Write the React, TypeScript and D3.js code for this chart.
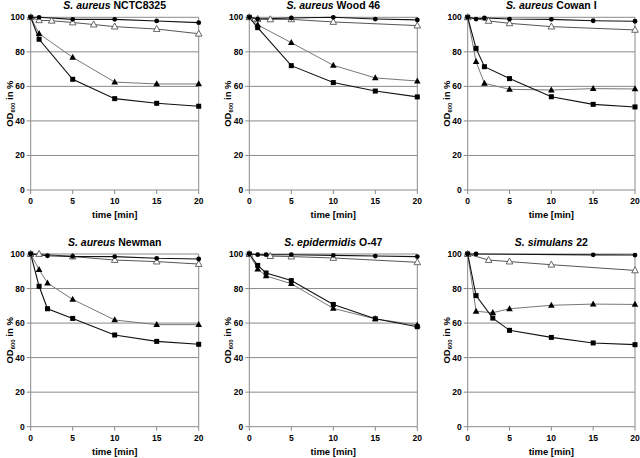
import React from "react";
import * as d3 from "d3";

type Pt = [number, number];

const titles: [string, string][] = [
  ["S. aureus", "NCTC8325"],
  ["S. aureus", "Wood 46"],
  ["S. aureus", "Cowan I"],
  ["S. aureus", "Newman"],
  ["S. epidermidis", "O-47"],
  ["S. simulans", "22"],
];

// series per panel: circles, open triangles, filled triangles, squares
const circles: Pt[][] = [
  [[0, 100], [1, 100], [5, 98.8], [10, 98.8], [15, 97.9], [20, 96.9]],
  [[0, 100], [1, 99], [5, 99.6], [10, 100], [15, 99], [20, 98.5]],
  [[0, 100], [1, 99], [2, 99.6], [5, 99], [10, 98.8], [15, 98], [20, 97.7]],
  [[0, 100], [2, 99], [5, 98.6], [10, 98.5], [15, 97.5], [20, 97.1]],
  [[0, 100], [1, 99.6], [2, 99.6], [5, 99.6], [10, 99.2], [15, 98.8], [20, 98.5]],
  [[0, 100], [1, 100], [15, 99.5], [20, 99.4]],
];
const openTri: Pt[][] = [
  [[0, 100], [1, 98.3], [2.5, 98], [5, 97], [7.5, 95.8], [10, 94.6], [15, 93.2], [20, 90.5]],
  [[0, 100], [1, 99], [2.5, 98.8], [5, 98.8], [10, 97.3], [20, 95.2]],
  [[0, 100], [2.5, 97.9], [5, 96.5], [10, 94.6], [20, 92.7]],
  [[0, 100], [1, 100], [5, 98.5], [10, 96.5], [15, 95.6], [20, 94.2]],
  [[0, 100], [2.5, 98.8], [5, 98.5], [10, 97.7], [20, 95.2]],
  [[0, 100], [2.5, 96.5], [5, 95.6], [10, 93.8], [20, 90.5]],
];
const filledTri: Pt[][] = [
  [[0, 100], [1, 90.5], [5, 76.8], [10, 62.5], [15, 61.4], [20, 61.4]],
  [[0, 100], [1, 95.6], [5, 85.3], [10, 72.2], [15, 64.9], [20, 63.1]],
  [[0, 100], [1, 74.3], [2, 61.8], [5, 58.3], [10, 57.9], [15, 58.7], [20, 58.5]],
  [[0, 100], [1, 90.9], [2, 83.2], [5, 73.7], [10, 61.8], [15, 59.1], [20, 59.1]],
  [[0, 100], [1, 91.3], [2, 87.3], [5, 82.8], [10, 68.5], [15, 62.4], [20, 58.9]],
  [[0, 100], [1, 66.8], [3, 66], [5, 68.3], [10, 70.3], [15, 71], [20, 70.8]],
];
const squares: Pt[][] = [
  [[0, 100], [1, 87.3], [5, 64.1], [10, 52.9], [15, 50.2], [20, 48.5]],
  [[0, 100], [1, 94], [5, 72], [10, 62.2], [15, 57.3], [20, 53.9]],
  [[0, 100], [1, 82], [2, 71.4], [5, 64.5], [10, 54], [15, 49.6], [20, 48.1]],
  [[0, 100], [1, 81.3], [2, 68.3], [5, 62.7], [10, 53.1], [15, 49.4], [20, 47.7]],
  [[0, 100], [1, 93.4], [2, 89], [5, 84.6], [10, 70.8], [15, 62.5], [20, 57.9]],
  [[0, 100], [1, 75.9], [3, 62.9], [5, 55.8], [10, 51.7], [15, 48.5], [20, 47.5]],
];

const xTicks = [0, 5, 10, 15, 20];
const yTicks = [0, 20, 40, 60, 80, 100];

const colX: [number, number][] = [
  [30.7, 198.7],
  [249.3, 417.3],
  [467.7, 635],
];
const rowY: [number, number][] = [
  [190, 17.3],
  [426.7, 254],
];

const FONT = "Arial, 'Liberation Sans', Helvetica, sans-serif";
const GRID = "#8a8a8a";

function Panel({ idx }: { idx: number }) {
  const col = idx % 3;
  const row = Math.floor(idx / 3);
  const x = d3.scaleLinear().domain([0, 20]).range(colX[col]);
  const y = d3.scaleLinear().domain([0, 100]).range(rowY[row]);
  const line = d3
    .line<Pt>()
    .x((d) => x(d[0]))
    .y((d) => y(d[1]));
  const [x0, x1] = x.range();
  const [yb, yt] = y.range();
  const cx = (x0 + x1) / 2;
  const cy = (yb + yt) / 2;
  const triPath = (px: number, py: number, s: number) =>
    `M${px},${py - s * 0.6}L${px + s * 0.55},${py + s * 0.4}L${px - s * 0.55},${py + s * 0.4}Z`;

  return (
    <g>
      {/* gridlines */}
      {yTicks.filter((t) => t > 0).map((t) => (
        <line key={"g" + t} x1={x0} x2={x1} y1={y(t)} y2={y(t)} stroke={GRID} strokeWidth={1} />
      ))}
      {/* right border */}
      <line x1={x1} x2={x1} y1={yt} y2={yb} stroke={GRID} strokeWidth={1} />
      {/* axes */}
      <line x1={x0} x2={x0} y1={yt} y2={yb} stroke={GRID} strokeWidth={1} />
      <line x1={x0} x2={x1} y1={yb} y2={yb} stroke={GRID} strokeWidth={1} />
      {yTicks.map((t) => (
        <g key={"yt" + t}>
          <line x1={x0 - 4} x2={x0} y1={y(t)} y2={y(t)} stroke={GRID} />
          <text x={x0 - 6} y={y(t) + 3} textAnchor="end" fontSize={8.5} fontWeight="bold" fontFamily={FONT}>
            {t}
          </text>
        </g>
      ))}
      {xTicks.map((t) => (
        <g key={"xt" + t}>
          <line x1={x(t)} x2={x(t)} y1={yb} y2={yb + 4} stroke={GRID} />
          <text x={x(t)} y={yb + 14} textAnchor="middle" fontSize={8.5} fontWeight="bold" fontFamily={FONT}>
            {t}
          </text>
        </g>
      ))}
      <text x={cx} y={yb + 28} textAnchor="middle" fontSize={9.5} fontWeight="bold" fontFamily={FONT}>
        time [min]
      </text>
      <text
        transform={`translate(${x0 - 18},${cy}) rotate(-90)`}
        textAnchor="middle"
        fontSize={9.5}
        fontWeight="bold"
        fontFamily={FONT}
      >
        OD<tspan fontSize={6} dy={2}>600</tspan>
        <tspan dy={-2}> in %</tspan>
      </text>
      <text x={cx} y={yt - 8} textAnchor="middle" fontSize={10.5} fontWeight="bold" fontFamily={FONT}>
        <tspan fontStyle="italic">{titles[idx][0]}</tspan> {titles[idx][1]}
      </text>

      {/* series lines */}
      <path d={line(filledTri[idx]) || ""} fill="none" stroke="#777" strokeWidth={1} />
      <path d={line(squares[idx]) || ""} fill="none" stroke="#111" strokeWidth={1.1} />
      <path d={line(openTri[idx]) || ""} fill="none" stroke="#555" strokeWidth={1} />
      <path d={line(circles[idx]) || ""} fill="none" stroke="#111" strokeWidth={1.1} />

      {/* markers */}
      {filledTri[idx].map((d, i) => (
        <path key={"ft" + i} d={triPath(x(d[0]), y(d[1]), 6)} fill="#000" />
      ))}
      {squares[idx].map((d, i) => (
        <rect key={"sq" + i} x={x(d[0]) - 2.5} y={y(d[1]) - 2.5} width={5} height={5} fill="#000" />
      ))}
      {openTri[idx].map((d, i) => (
        <path key={"ot" + i} d={triPath(x(d[0]), y(d[1]), 6)} fill="#fff" stroke="#444" strokeWidth={0.8} />
      ))}
      {circles[idx].map((d, i) => (
        <circle key={"c" + i} cx={x(d[0])} cy={y(d[1])} r={2.4} fill="#000" />
      ))}
    </g>
  );
}

export default function App() {
  return (
    <svg
      width={640}
      height={458}
      style={{ position: "absolute", left: 0, top: 0, background: "#fff" }}
    >
      <rect width={640} height={458} fill="#fff" />
      {titles.map((_, i) => (
        <Panel key={i} idx={i} />
      ))}
    </svg>
  );
}
